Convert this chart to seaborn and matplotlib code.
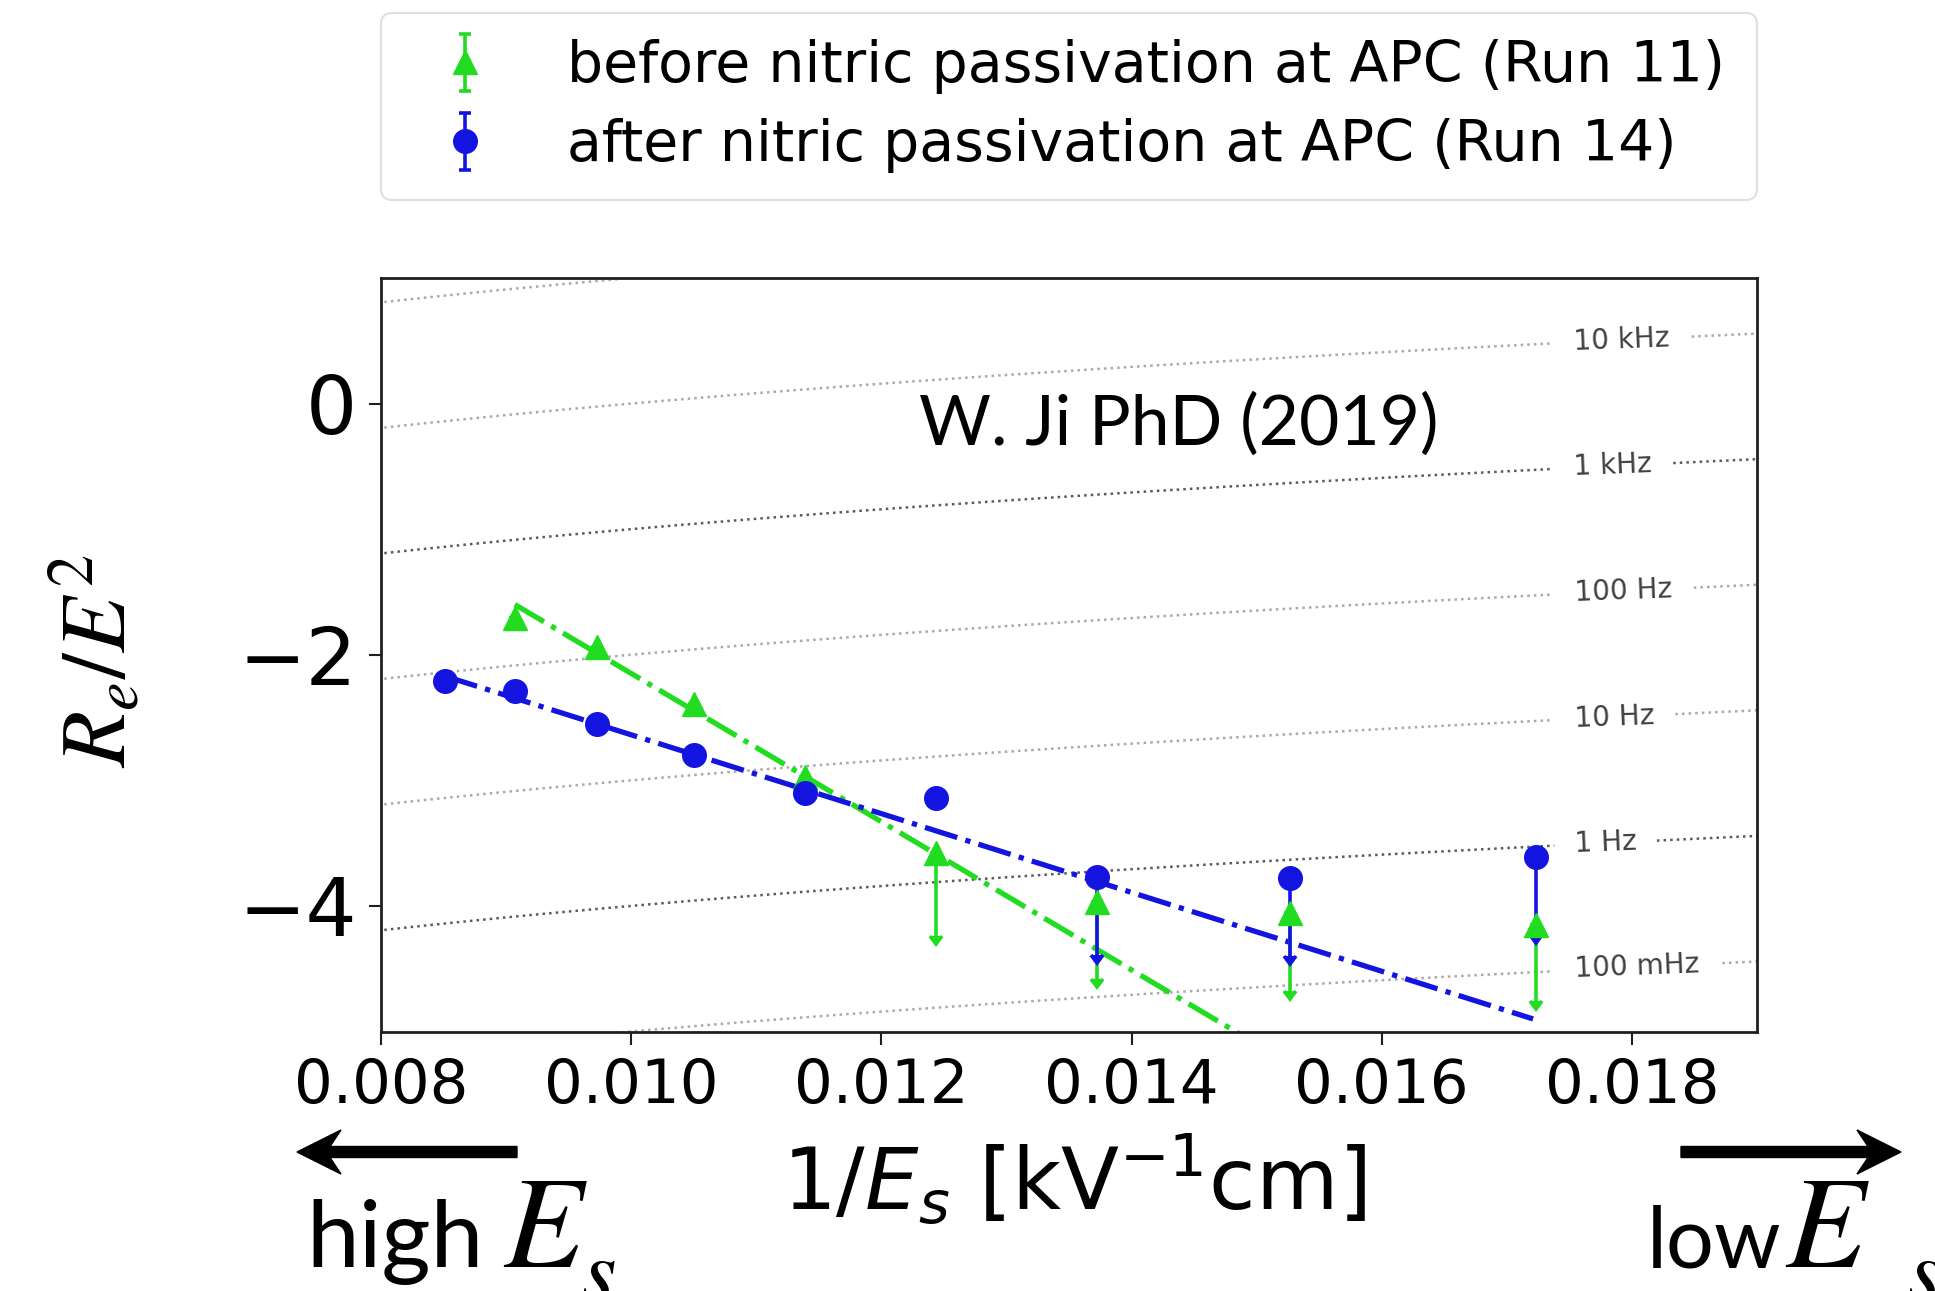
import numpy as np
import matplotlib
matplotlib.use("Agg")
import matplotlib.pyplot as plt
import seaborn as sns
from matplotlib.patches import FancyArrow

# ---------------- data ----------------
x_before = [0.00907, 0.00973, 0.01050, 0.01139, 0.01244, 0.01372, 0.01527, 0.01723]
y_before = [-1.71, -1.94, -2.39, -2.97, -3.58, -3.97, -4.06, -4.15]
yerr_before = [0.0, 0.0, 0.0, 0.0, 0.66, 0.61, 0.62, 0.61]

x_after = [0.00851, 0.00907, 0.00973, 0.01050, 0.01139, 0.01244, 0.01372, 0.01527, 0.01723]
y_after = [-2.21, -2.29, -2.55, -2.80, -3.10, -3.14, -3.77, -3.78, -3.61]
yerr_after = [0.0, 0.0, 0.0, 0.0, 0.0, 0.0, 0.62, 0.62, 0.62]

fit_before_x = [0.00907, 0.01722]
fit_before_y = [-1.60, -6.41]
fit_after_x = [0.00851, 0.01721]
fit_after_y = [-2.17, -4.90]

# labelled iso-frequency lines (ascending) and unlabelled ones
freqs_hz = [0.1, 1.0, 10.0, 100.0, 1e3, 1e4]
freq_labels = ['100 mHz', '1 Hz', '10 Hz', '100 Hz', '1 kHz', '10 kHz']
extra_freqs_hz = [0.01, 1e5]
label_x = [0.01804, 0.01779, 0.01786, 0.01793, 0.01785, 0.01792]

legend_labels = ['before nitric passivation at APC (Run 11)',
                 'after nitric passivation at APC (Run 14)']
x_ticks = [0.008, 0.010, 0.012, 0.014, 0.016, 0.018]
y_ticks = [-4, -2, 0]

GREEN = '#22dc22'
BLUE = '#1414e0'
LIGHT = '#a9a9a9'
DARK = '#5a5a5a'

# ---------------- style ----------------
sns.set_style('ticks', {'axes.edgecolor': '0.12', 'xtick.color': '0.12', 'ytick.color': '0.12',
                        'text.color': 'black'})
plt.rcParams['font.family'] = ['DejaVu Sans']
plt.rcParams['mathtext.fontset'] = 'dejavusans'

W, H = 1935, 1291
fig = plt.figure(figsize=(W / 100, H / 100), dpi=100)
ax = fig.add_axes([381 / W, (H - 1031.5) / H, 1376 / W, 753.5 / H])

# iso-frequency reference lines (y = log10(f) + 2 log10(1/E))
gx = np.linspace(0.0075, 0.0195, 300)
gy = np.linspace(-7.0, 1.5, 340)
GX, GY = np.meshgrid(gx, gy)
GZ = GY - 2 * np.log10(GX)
levels = np.log10(freqs_hz)
lev_colors = [DARK if lab in ('1 Hz', '1 kHz') else LIGHT for lab in freq_labels]
ax.contour(GX, GY, GZ, levels=np.log10(extra_freqs_hz), colors=LIGHT, linestyles='dotted',
           linewidths=1.8, zorder=1)
cs = ax.contour(GX, GY, GZ, levels=levels, colors=lev_colors, linestyles='dotted',
                linewidths=1.8, zorder=1)
fmt = {lv: lab for lv, lab in zip(cs.levels, freq_labels)}
manual = [(lx, lv + 2 * np.log10(lx)) for lx, lv in zip(label_x, cs.levels)]
ax.clabel(cs, manual=manual, inline=True, inline_spacing=16,
          fontsize=20, colors='#404040', fmt=fmt)

# data with (upper-limit style) error bars
eb_before = ax.errorbar(x_before, y_before, yerr=[yerr_before, [0.0] * len(yerr_before)],
                        uplims=[e > 0 for e in yerr_before], fmt='^', ms=17, color=GREEN,
                        ecolor=GREEN, elinewidth=2.6, capsize=4, capthick=2.6, linestyle='none')
eb_after = ax.errorbar(x_after, y_after, yerr=[yerr_after, [0.0] * len(yerr_after)],
                       uplims=[e > 0 for e in yerr_after], fmt='o', ms=17, color=BLUE,
                       ecolor=BLUE, elinewidth=2.6, capsize=4, capthick=2.6, linestyle='none')

# linear fits
n0 = len(ax.get_lines())
sns.lineplot(x=fit_before_x, y=fit_before_y, ax=ax, color=GREEN, linewidth=3.8, sort=False,
             legend=False, zorder=1.8)
sns.lineplot(x=fit_after_x, y=fit_after_y, ax=ax, color=BLUE, linewidth=3.8, sort=False,
             legend=False, zorder=1.8)
for ln in ax.get_lines()[n0:]:
    ln.set_linestyle('-.')

ax.set_xlim(0.008, 0.019)
ax.set_ylim(-5, 1)
ax.set_xticks(x_ticks)
ax.set_yticks(y_ticks)
ax.set_xticklabels([f'{t:.3f}' for t in x_ticks])
for s in ax.spines.values():
    s.set_visible(True)
    s.set_linewidth(2)
ax.tick_params(axis='both', direction='out', length=9, width=1.5, labelcolor='black')
ax.tick_params(axis='x', labelsize=44, pad=9)
ax.tick_params(axis='y', labelsize=58, pad=8)
ax.set_xlabel('')
ax.set_ylabel('')

leg = ax.legend([eb_before, eb_after], legend_labels, loc='lower left',
                bbox_to_anchor=(0, 1.1035, 1, 0.2), mode='expand', borderaxespad=0,
                fontsize=41, handletextpad=0.8, handlelength=2.0, borderpad=0.47,
                labelspacing=0.42, frameon=True, fancybox=True, labelcolor='black')
leg.get_frame().set_edgecolor('#d8d8d8')
leg.get_frame().set_linewidth(1.5)

# ---------------- annotation overlay (pixel coordinates) ----------------
ov = fig.add_axes([0, 0, 1, 1], zorder=5)
ov.set_xlim(0, W)
ov.set_ylim(H, 0)
ov.set_axis_off()
ov.patch.set_alpha(0)

ov.text(1074, 1210, r'1/$E_s$ [kV$^{-1}$cm]', ha='center', va='baseline', fontsize=61,
        color='black')
ov.text(97, 661, r'$R_e/E^2$', rotation=90, ha='center', va='center', fontsize=66,
        math_fontfamily='stix', color='black')
ov.text(919, 445, 'W. Ji PhD (2019)', ha='left', va='baseline', fontsize=50,
        family=['Lato', 'DejaVu Sans'], color='black')

ov.add_patch(FancyArrow(517, 1152, -220, 0, width=11, head_width=44, head_length=44,
                        length_includes_head=True, overhang=0.25, color='black'))
ov.add_patch(FancyArrow(1681, 1152, 220, 0, width=11, head_width=44, head_length=44,
                        length_includes_head=True, overhang=0.25, color='black'))

ov.text(306, 1267, 'high', ha='left', va='baseline', fontsize=68,
        family=['Lato', 'DejaVu Sans'], color='black')
ov.text(503, 1267, r'$E$', ha='left', va='baseline', fontsize=94,
        math_fontfamily='stix', color='black')
ov.text(580, 1302, r'$s$', ha='left', va='baseline', fontsize=66,
        math_fontfamily='stix', color='black')
ov.text(1647, 1267, 'low', ha='left', va='baseline', fontsize=61,
        family=['Lato', 'DejaVu Sans'], color='black')
ov.text(1785, 1267, r'$E$', ha='left', va='baseline', fontsize=94,
        math_fontfamily='stix', color='black')
ov.text(1906, 1302, r'$s$', ha='left', va='baseline', fontsize=66,
        math_fontfamily='stix', color='black')

fig.savefig('out.png', dpi=100)
